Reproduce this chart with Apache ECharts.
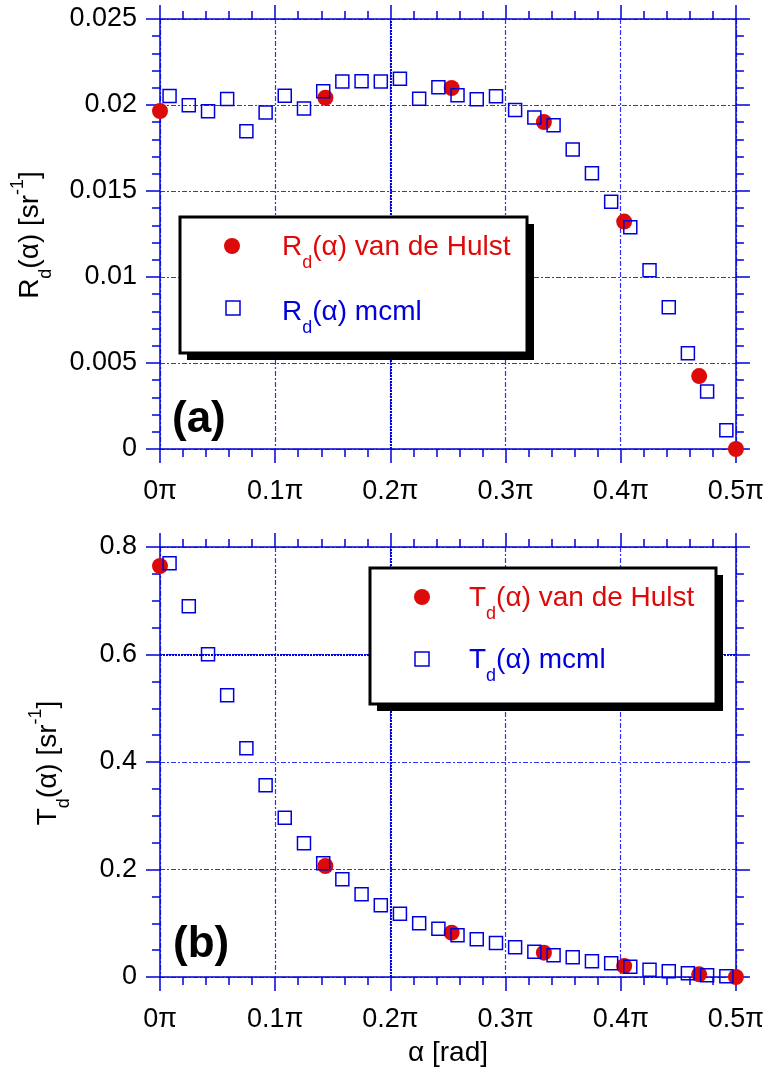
<!DOCTYPE html>
<html>
<head>
<meta charset="utf-8">
<script src="https://cdn.jsdelivr.net/npm/echarts@6/dist/echarts.min.js"></script>
<style>
  html, body { margin: 0; padding: 0; background: #fff; }
  #chart { width: 767px; height: 1069px; }
</style>
</head>
<body>
<div id="chart"></div>
<script>
// Angular distributions of diffuse reflectance (a) and transmittance (b),
// van de Hulst tables versus mcml Monte Carlo results. Angles in units of pi.

const xTickLabels = ['0π', '0.1π', '0.2π', '0.3π', '0.4π', '0.5π'];
const rdTickLabels = ['0', '0.005', '0.01', '0.015', '0.02', '0.025'];
const tdTickLabels = ['0', '0.2', '0.4', '0.6', '0.8'];

// van de Hulst angles (alpha / pi)
const hulstAngle = [0, 0.1436, 0.2532, 0.3333, 0.4030, 0.4681, 0.5];
const rdHulst = [0.01965, 0.02042, 0.02099, 0.01901, 0.01322, 0.00424, 0];
const tdHulst = [0.7647, 0.2065, 0.0825, 0.0453, 0.0205, 0.0050, 0];

// mcml angular bin centres (alpha / pi)
const mcmlAngle = [0.0083, 0.0250, 0.0417, 0.0583, 0.0750, 0.0917, 0.1083, 0.1250,
  0.1417, 0.1583, 0.1750, 0.1917, 0.2083, 0.2250, 0.2417, 0.2583, 0.2750, 0.2917,
  0.3083, 0.3250, 0.3417, 0.3583, 0.3750, 0.3917, 0.4083, 0.4250, 0.4417, 0.4583,
  0.4750, 0.4917];
const rdMcml = [0.02052, 0.01998, 0.01963, 0.02035, 0.01847, 0.01957, 0.02054, 0.01979,
  0.02080, 0.02136, 0.02138, 0.02136, 0.02153, 0.02037, 0.02103, 0.02056, 0.02033, 0.02051,
  0.01971, 0.01928, 0.01882, 0.01742, 0.01603, 0.01438, 0.01289, 0.01039, 0.00824, 0.00556,
  0.00335, 0.00109];
const tdMcml = [0.7697, 0.6896, 0.6003, 0.5240, 0.4254, 0.3566, 0.2964, 0.2487,
  0.2115, 0.1817, 0.1538, 0.1333, 0.1178, 0.0998, 0.0899, 0.0775, 0.0701, 0.0633,
  0.0552, 0.0471, 0.0403, 0.0366, 0.0291, 0.0254, 0.0192, 0.0136, 0.0105, 0.0068,
  0.0031, 0.0012];

const BLUE = '#0000dd';
const GRID_BLUE = '#3030ff';
const RED = '#dd0a0a';
const FONT = '"Liberation Sans", Arial, Helvetica, sans-serif';
const TICK_FS = 27;

const zip = (xs, ys) => xs.map((x, i) => [x, ys[i]]);

const gridLine = { show: true, lineStyle: { color: GRID_BLUE, width: 1.2, opacity: 1, type: [5, 2, 2, 2] } };
const axisLineStyle = { color: BLUE, width: 1.5 };

function xAxes(gridIndex) {
  const base = {
    gridIndex, type: 'value', min: 0, max: 0.5, interval: 0.1,
    axisLine: { show: true, onZero: false, lineStyle: axisLineStyle },
    axisTick: { show: true, length: 14, lineStyle: axisLineStyle },
    minorTick: { show: true, splitNumber: 5, length: 8, lineStyle: axisLineStyle }
  };
  return [
    Object.assign({}, base, {
      position: 'bottom',
      axisLabel: {
        color: '#000', fontSize: TICK_FS, fontFamily: FONT, margin: 29,
        formatter: v => xTickLabels[Math.round(v / 0.1)]
      },
      splitLine: gridLine
    }),
    Object.assign({}, base, {
      position: 'top', axisLabel: { show: false }, splitLine: { show: false }
    })
  ];
}

function yAxes(gridIndex, max, interval, minorSplit, labels) {
  const base = {
    gridIndex, type: 'value', min: 0, max, interval,
    axisLine: { show: true, onZero: false, lineStyle: axisLineStyle },
    axisTick: { show: true, length: 14, lineStyle: axisLineStyle },
    minorTick: { show: true, splitNumber: minorSplit, length: 8, lineStyle: axisLineStyle }
  };
  return [
    Object.assign({}, base, {
      position: 'left',
      axisLabel: {
        color: '#000', fontSize: TICK_FS, fontFamily: FONT, margin: 23,
        formatter: v => labels[Math.round(v / interval)]
      },
      splitLine: gridLine
    }),
    Object.assign({}, base, {
      position: 'right', axisLabel: { show: false }, splitLine: { show: false }
    })
  ];
}

function heavyLines(items) {
  return {
    silent: true, symbol: 'none', label: { show: false },
    lineStyle: { color: BLUE, width: 2, opacity: 1, type: [2, 1] },
    emphasis: { disabled: true },
    data: items
  };
}

function hulstSeries(axisIdx, data) {
  return {
    type: 'scatter', xAxisIndex: axisIdx, yAxisIndex: axisIdx, data,
    symbol: 'circle', symbolSize: 16, clip: false, z: 3, silent: true,
    itemStyle: { color: RED, opacity: 1 }
  };
}
function mcmlSeries(axisIdx, data, marks) {
  return {
    type: 'scatter', xAxisIndex: axisIdx, yAxisIndex: axisIdx, data,
    symbol: 'rect', symbolSize: 13, clip: false, z: 4, silent: true,
    itemStyle: { color: 'rgba(0,0,0,0)', borderColor: BLUE, borderWidth: 1.5, opacity: 1 },
    markLine: heavyLines(marks)
  };
}

// rich-text styles for labels with sub/superscripts
function richStyles(color) {
  return {
    m: { fontSize: 28, fontFamily: FONT, fill: color },
    s: { fontSize: 18, fontFamily: FONT, fill: color, padding: [33, 0, 0, 0] },
    p: { fontSize: 18, fontFamily: FONT, fill: color, padding: [0, 0, 23, 0] }
  };
}

function legendBox(x, y, w, h, rows) {
  const els = [
    { type: 'rect', z: 100, shape: { x: x + 7, y: y + 7, width: w, height: h }, style: { fill: '#000' } },
    { type: 'rect', z: 101, shape: { x, y, width: w, height: h }, style: { fill: '#fff', stroke: '#000', lineWidth: 3 } }
  ];
  rows.forEach(r => {
    if (r.marker === 'circle') {
      els.push({ type: 'circle', z: 102, shape: { cx: r.mx, cy: r.my, r: 8 }, style: { fill: RED } });
    } else {
      els.push({ type: 'rect', z: 102, shape: { x: r.mx - 7, y: r.my - 7, width: 14, height: 14 },
        style: { fill: 'none', stroke: BLUE, lineWidth: 1.5 } });
    }
    els.push({
      type: 'text', z: 102, x: r.tx, y: r.ty,
      style: { text: r.text, rich: richStyles(r.color), fill: r.color, align: 'left', verticalAlign: 'middle', font: '28px ' + FONT }
    });
  });
  return els;
}

const graphics = [].concat(
  legendBox(180, 217, 347, 136, [
    { marker: 'circle', mx: 232, my: 246, tx: 282, ty: 247, color: RED, text: '{m|R}{s|d}{m|(α) van de Hulst}' },
    { marker: 'rect', mx: 233, my: 308, tx: 282, ty: 312, color: BLUE, text: '{m|R}{s|d}{m|(α) mcml}' }
  ]),
  legendBox(370, 568, 346, 136, [
    { marker: 'circle', mx: 422, my: 597, tx: 469, ty: 598, color: RED, text: '{m|T}{s|d}{m|(α) van de Hulst}' },
    { marker: 'rect', mx: 422, my: 659, tx: 469, ty: 660, color: BLUE, text: '{m|T}{s|d}{m|(α) mcml}' }
  ]),
  [
    { type: 'text', x: 30, y: 235, rotation: Math.PI / 2, z: 50,
      style: { text: '{m|R}{s|d}{m|(α) [sr}{p|-1}{m|]}', rich: richStyles('#000'), align: 'center', verticalAlign: 'middle', font: '28px ' + FONT } },
    { type: 'text', x: 48, y: 763, rotation: Math.PI / 2, z: 50,
      style: { text: '{m|T}{s|d}{m|(α) [sr}{p|-1}{m|]}', rich: richStyles('#000'), align: 'center', verticalAlign: 'middle', font: '28px ' + FONT } },
    { type: 'text', x: 448, y: 1053, z: 50,
      style: { text: 'α [rad]', fill: '#000', align: 'center', verticalAlign: 'middle', font: '28px ' + FONT } },
    { type: 'text', x: 172, y: 420, z: 50,
      style: { text: '(a)', fill: '#000', align: 'left', verticalAlign: 'middle', font: 'bold 44px ' + FONT } },
    { type: 'text', x: 173, y: 945, z: 50,
      style: { text: '(b)', fill: '#000', align: 'left', verticalAlign: 'middle', font: 'bold 44px ' + FONT } }
  ]
);

const chart = echarts.init(document.getElementById('chart'), null, { renderer: 'canvas' });
chart.setOption({
  animation: false,
  backgroundColor: '#fff',
  textStyle: { fontFamily: FONT },
  grid: [
    { left: 160, top: 19, width: 576, height: 430 },
    { left: 160, top: 547, width: 576, height: 430 }
  ],
  xAxis: [].concat(xAxes(0), xAxes(1)),
  yAxis: [].concat(
    yAxes(0, 0.025, 0.005, 5, rdTickLabels),
    yAxes(1, 0.8, 0.2, 4, tdTickLabels)
  ),
  series: [
    hulstSeries(0, zip(hulstAngle, rdHulst)),
    mcmlSeries(0, zip(mcmlAngle, rdMcml), [{ xAxis: 0.2 }]),
    hulstSeries(2, zip(hulstAngle, tdHulst)),
    mcmlSeries(2, zip(mcmlAngle, tdMcml), [{ xAxis: 0.2 }, { yAxis: 0.6 }])
  ],
  graphic: graphics
});
</script>
</body>
</html>
